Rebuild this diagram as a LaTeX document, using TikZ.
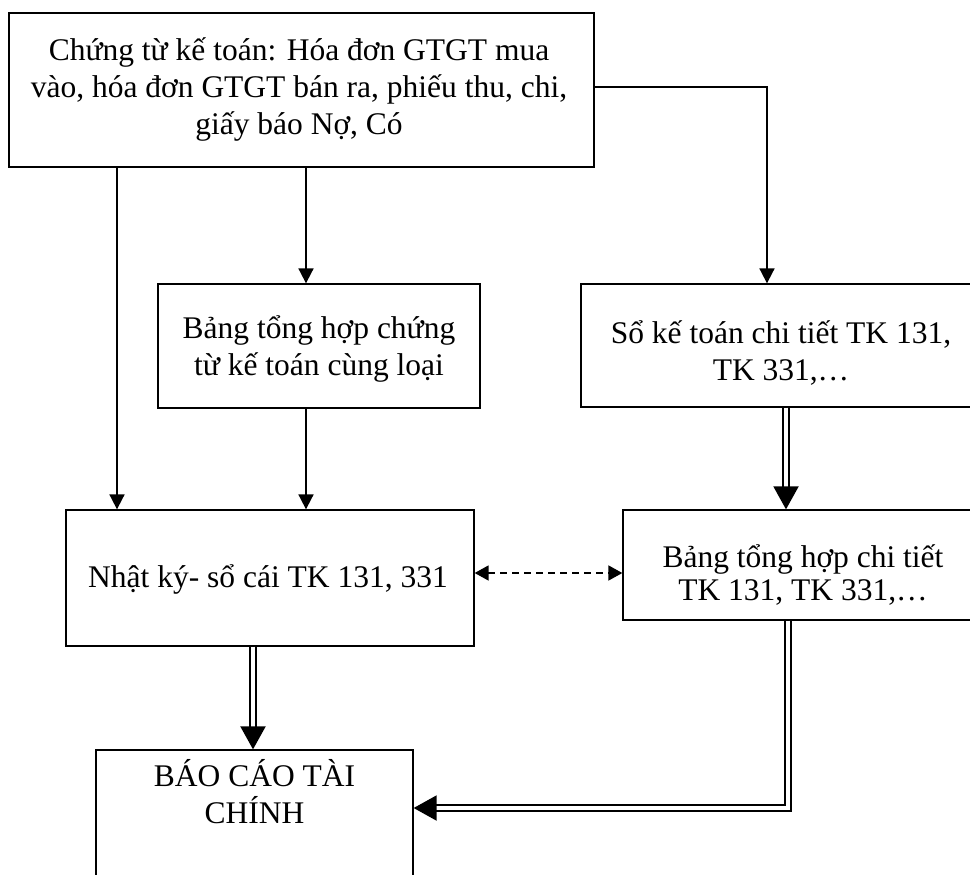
\documentclass[tikz,border=0pt]{standalone}
\usepackage{fontspec}
\setmainfont{Liberation Serif}
\usetikzlibrary{arrows.meta}
% tall invisible rule that fixes the top of the first text line
\newcommand{\firstln}{\rule{0pt}{34pt}}
\begin{document}
\begin{tikzpicture}[x=1pt,y=-1pt,
  box/.style={draw, line width=1.3pt, inner sep=0pt, rectangle},
  txt/.style={anchor=north, inner sep=0pt, align=center, font=\fontsize{31.5}{37}\selectfont},
  arr/.style={line width=1.8pt, -{Triangle[length=15pt,width=15pt]}},
  dbl/.style={double, double distance=3.7pt, line width=2pt, -{Triangle[length=23pt,width=25pt]}},
  dsh/.style={line width=1.7pt, dash pattern=on 7pt off 5pt,
    {Triangle[length=14pt,width=15pt]}-{Triangle[length=14pt,width=15pt]}}]
\useasboundingbox (0,0) rectangle (970,875);
\fill[white] (0,0) rectangle (970,875);
\clip (0,0) rectangle (970,875);

% boxes
\node[box, minimum width=585pt, minimum height=154pt] (ct)  at (301.5,90) {};
\node[box, minimum width=322pt, minimum height=124pt] (bth) at (319,346) {};
\node[box, minimum width=400pt, minimum height=123pt] (sct) at (781,345.5) {};
\node[box, minimum width=408pt, minimum height=136pt] (nk)  at (270,578) {};
\node[box, minimum width=360pt, minimum height=110pt] (bct) at (803,565) {};
\node[box, minimum width=317pt, minimum height=160pt] (bc)  at (254.5,830) {};

% texts
\node[txt] (ctT)  at (299,26)  {\firstln Chứng từ kế toán: Hóa đơn GTGT mua\\vào, hóa đơn GTGT bán ra, phiếu thu, chi,\\giấy báo Nợ, Có};
\node[txt] (bthT) at (319,304) {\firstln Bảng tổng hợp chứng\\từ kế toán cùng loại};
\node[txt] (sctT) at (781,309) {\firstln Sổ kế toán chi tiết TK 131,\\TK 331,…};
\node[txt] (nkT)  at (268,553) {\firstln Nhật ký- sổ cái TK 131, 331};
\node[txt] (bctT) at (803,533) {\firstln Bảng tổng hợp chi tiết\\[-4pt]TK 131, TK 331,…};
\node[txt] (bcT)  at (254.5,752) {\firstln BÁO CÁO TÀI\\CHÍNH};

% connector tracks
\coordinate (xa) at (117,0);
\coordinate (xb) at (306,0);
\coordinate (xc) at (767,0);
\coordinate (xd) at (786,0);
\coordinate (xe) at (253,0);
\coordinate (xf) at (788,0);
\coordinate (ya) at (0,87);
\coordinate (yb) at (0,573);
\coordinate (yc) at (0,808);

% connectors
\draw[arr] (ct.south -| xa) -- (nk.north -| xa);
\draw[arr] (ct.south -| xb) -- (bth.north -| xb);
\draw[arr] (bth.south -| xb) -- (nk.north -| xb);
\draw[arr] (ct.east |- ya) -| (sct.north -| xc);
\draw[dbl] (sct.south -| xd) -- (bct.north -| xd);
\draw[dsh] (nk.east |- yb) -- (bct.west |- yb);
\draw[dbl] (nk.south -| xe) -- (bc.north -| xe);
\draw[dbl] (bct.south -| xf) |- (bc.east |- yc);
\end{tikzpicture}
\end{document}
